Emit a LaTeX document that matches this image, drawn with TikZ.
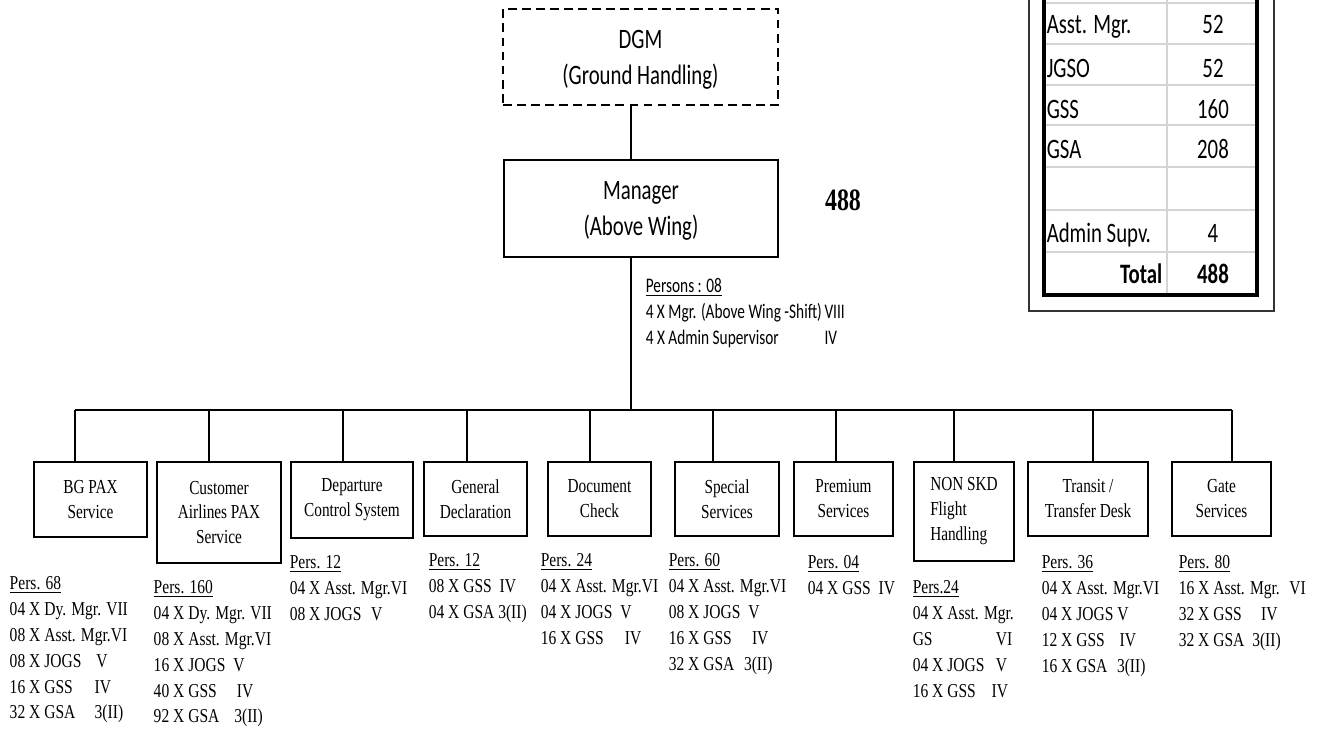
\documentclass[tikz,border=0pt]{standalone}
\usepackage{fontspec}
\setmainfont[FakeStretch=0.79]{Liberation Serif}
\newfontfamily\boxfont[FakeStretch=0.77]{Liberation Serif}
\newfontfamily\calfont[FakeStretch=0.74]{Carlito}
\usetikzlibrary{positioning}
\definecolor{gridgray}{RGB}{212,212,212}
\newcommand\unitpx{0.02cm}

\begin{document}
\begin{tikzpicture}[
  x=0.02cm, y=-0.02cm, line width=0.85pt,
  head/.style = {draw, line width=1pt, font=\calfont\fontsize{16}{20.5}\selectfont, align=center, anchor=north, inner sep=0pt},
  unit/.style = {draw, line width=1.1pt, font=\boxfont\fontsize{11.3}{14.2}\selectfont, align=center, anchor=north, inner sep=0pt},
  size/.style 2 args = {minimum width=#1*\unitpx, minimum height=#2*\unitpx},
  pers/.style = {font=\fontsize{11.2}{14.7}\selectfont, align=left, anchor=north west, inner sep=0pt},
  cell/.style = {font=\calfont\fontsize{16}{19}\selectfont, inner sep=0pt}
  ]
  \useasboundingbox (0,0) rectangle (1332,731);
  \clip (0,0) rectangle (1332,731);

  % head of the unit
  \node[head, dashed, dash pattern=on 5pt off 3pt, size={275}{96}] (dgm) at (640.5,8) {\rule{0pt}{13.5pt}DGM\\(Ground Handling)};
  \node[head, size={274}{97}] (mgr) at (641,159) {\rule{0pt}{13.5pt}Manager\\(Above Wing)};
  \node[font=\boxfont\bfseries\fontsize{17.7}{20}\selectfont, inner sep=0pt] (sum) at (843,200) {488};
  \node[font=\calfont\fontsize{11.8}{14.8}\selectfont, anchor=north west, inner sep=0pt] (staff) at (645,274)
    {\begin{tabular}{@{}l@{\hspace{1.5pt}}l@{}}
      \underline{Persons : 08} & \\
      4 X Mgr. (Above Wing -Shift) & VIII\\
      4 X Admin Supervisor & IV
    \end{tabular}};

  \coordinate (bus) at (631,410);
  \coordinate (busL) at (75,410);
  \coordinate (busR) at (1232,410);
  \draw (dgm.south -| bus) -- (mgr.north -| bus);
  \draw (mgr.south -| bus) -- (bus);
  \draw (busL) -- (busR);

  % sections
  \node[unit, size={113}{75}] (@1) at (90.5,461) {BG PAX\\Service};
  \node[unit, size={124}{101}] (@2) at (219,461) {Customer\\Airlines PAX\\Service};
  \node[unit, size={122}{76}] (@3) at (352,461) {Departure\\Control System};
  \node[unit, size={103}{74}] (@4) at (475.5,461) {General\\Declaration};
  \node[unit, size={103}{74}] (@5) at (599.5,461) {Document\\Check};
  \node[unit, size={104}{74}] (@6) at (727,461) {Special\\Services};
  \node[unit, size={99}{74}] (@7) at (843.5,461) {Premium\\Services};
  \node[unit, align=left, size={100}{99}] (@8) at (964,461) {NON SKD\\Flight\\Handling};
  \node[unit, size={120}{74}] (@9) at (1088,461) {Transit /\\Transfer Desk};
  \node[unit, size={99}{74}] (@10) at (1221.5,461) {Gate\\Services};

  \foreach \i/\x in {1/75, 2/209, 3/343, 4/467, 5/590, 6/713, 7/836, 8/954, 9/1093, 10/1232}
    \draw (bus -| \x,0) -- (@\i.north -| \x,0);

  % staff of each section
  \node[pers] (pers1) at (9,576) {\underline{Pers. 68}\\04 X Dy. Mgr. VII\\08 X Asst. Mgr.VI\\08 X JOGS\hspace{8.5pt}V\\16 X GSS\hspace{12.5pt}IV\\32 X GSA\hspace{11pt}3(II)};
  \node[pers] (pers2) at (153,580) {\underline{Pers. 160}\\04 X Dy. Mgr. VII\\08 X Asst. Mgr.VI\\16 X JOGS\hspace{4.5pt}V\\40 X GSS\hspace{11.5pt}IV\\92 X GSA\hspace{8.5pt}3(II)};
  \node[pers] (pers3) at (289,555) {\underline{Pers. 12}\\04 X Asst. Mgr.VI\\08 X JOGS\hspace{5.5pt}V};
  \node[pers] (pers4) at (428,553) {\underline{Pers. 12}\\08 X GSS\hspace{4.5pt}IV\\04 X GSA 3(II)};
  \node[pers] (pers5) at (540,553) {\underline{Pers. 24}\\04 X Asst. Mgr.VI\\04 X JOGS\hspace{4.5pt}V\\16 X GSS\hspace{12pt}IV};
  \node[pers] (pers6) at (668,553) {\underline{Pers. 60}\\04 X Asst. Mgr.VI\\08 X JOGS\hspace{4.5pt}V\\16 X GSS\hspace{11.5pt}IV\\32 X GSA\hspace{5.5pt}3(II)};
  \node[pers] (pers7) at (807,555) {\underline{Pers. 04}\\04 X GSS\hspace{4.5pt}IV};
  \node[pers] (pers8) at (912,580) {\underline{Pers.24}\\04 X Asst. Mgr.\\GS\hspace{36pt}VI\\04 X JOGS\hspace{6.5pt}V\\16 X GSS\hspace{9pt}IV};
  \node[pers] (pers9) at (1041,555) {\underline{Pers. 36}\\04 X Asst. Mgr.VI\\04 X JOGS V\\12 X GSS\hspace{8.5pt}IV\\16 X GSA\hspace{5.5pt}3(II)};
  \node[pers] (pers10) at (1178,555) {\underline{Pers. 80}\\16 X Asst. Mgr.\hspace{5.5pt}VI\\32 X GSS\hspace{11pt}IV\\32 X GSA\hspace{4.5pt}3(II)};

  % strength table
  \draw[line width=0.9pt, black!80] (1029,-20) rectangle (1274,311);
  \foreach \y in {3,44,85,125,167,210,252}
    \draw[gridgray, line width=1.2pt] (1044,\y) -- (1257,\y);
  \draw[gridgray, line width=1.2pt] (1167,-20) -- (1167,295);
  \draw[line width=1.8pt] (1044,-20) rectangle (1257,295);
  \foreach \y/\k/\v in {33/Asst. Mgr./52, 77/JGSO/52, 118/GSS/160, 158/GSA/208, 242/Admin Supv./4} {
    \node[cell, anchor=base west] at (1046,\y) {\k};
    \node[cell, anchor=base] at (1213,\y) {\v};
  }
  \node[cell, anchor=base east, font=\calfont\bfseries\fontsize{16}{19}\selectfont] (tot) at (1163,283) {Total};
  \node[cell, anchor=base, font=\calfont\bfseries\fontsize{16}{19}\selectfont] (totv) at (1213,283) {488};
\end{tikzpicture}
\end{document}
